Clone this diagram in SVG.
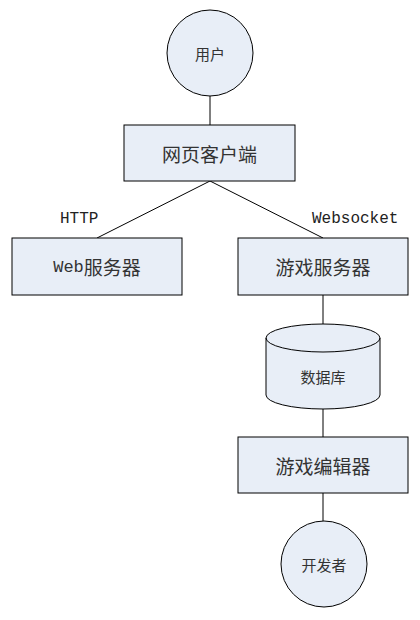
<svg xmlns="http://www.w3.org/2000/svg" width="420" height="620" viewBox="0 0 420 620">
<style>
.shape{fill:#E8EEF7;stroke:#000;stroke-width:1}
.conn line{stroke:#000;stroke-width:1}
.lbl{font-family:"Noto Sans CJK SC","Liberation Sans",sans-serif;fill:#333;text-anchor:middle;dominant-baseline:central}
.big{font-size:19px}
.small{font-size:15px}
.mono{font-family:"Liberation Mono","Noto Sans CJK SC",monospace;font-size:16px;fill:#222}
</style>
<rect width="420" height="620" fill="#fff"/>
<g id="connectors" class="conn">
<line x1="210" y1="96" x2="210" y2="125"/>
<line x1="210" y1="181" x2="97" y2="238"/>
<line x1="210" y1="181" x2="323" y2="238"/>
<line x1="323" y1="295" x2="323" y2="324"/>
<line x1="323" y1="409" x2="323" y2="437"/>
<line x1="323" y1="493" x2="323" y2="521"/>
</g>
<text class="mono" x="60" y="223">HTTP</text>
<text class="mono" x="312" y="223">Websocket</text>
<g id="user">
<circle class="shape" cx="210" cy="53" r="43"/>
<text class="lbl small" x="210" y="53">用户</text>
</g>
<g id="webclient">
<rect class="shape" x="124" y="125" width="171" height="56"/>
<text class="lbl big" x="209.5" y="153">网页客户端</text>
</g>
<g id="webserver">
<rect class="shape" x="12" y="238" width="170" height="57"/>
<text class="lbl big" x="97" y="266.5"><tspan font-family="Liberation Mono,monospace" font-size="17">Web</tspan>服务器</text>
</g>
<g id="gameserver">
<rect class="shape" x="238" y="238" width="170" height="57"/>
<text class="lbl big" x="323" y="266.5">游戏服务器</text>
</g>
<g id="database">
<path class="shape" d="M266,338 A57,14 0 0 1 380,338 L380,395 A57,14 0 0 1 266,395 Z"/>
<path d="M266,338 A57,14 0 0 0 380,338" fill="none" stroke="#000" stroke-width="1"/>
<text class="lbl small" x="323" y="376">数据库</text>
</g>
<g id="editor">
<rect class="shape" x="238" y="437" width="170" height="56"/>
<text class="lbl big" x="323" y="465">游戏编辑器</text>
</g>
<g id="developer">
<circle class="shape" cx="324" cy="564" r="43"/>
<text class="lbl small" x="324" y="564">开发者</text>
</g>
</svg>
